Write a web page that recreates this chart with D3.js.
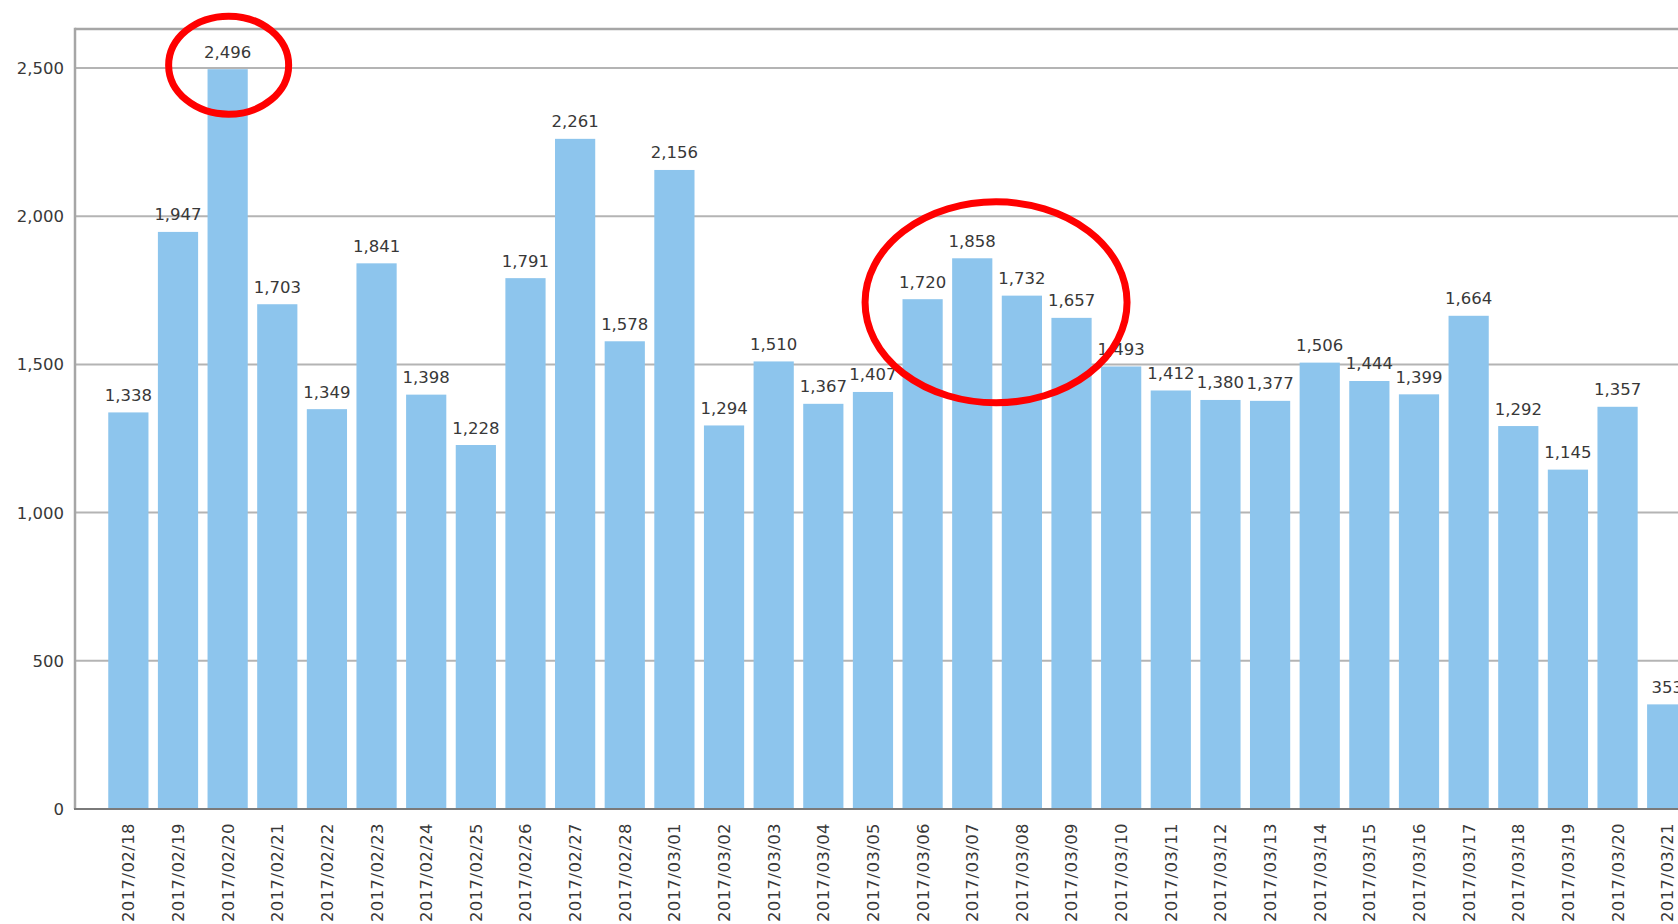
<!DOCTYPE html>
<html>
<head>
<meta charset="utf-8">
<script src="https://cdn.jsdelivr.net/npm/d3@7"></script>
<style>
  html, body { margin: 0; padding: 0; background: #fff; overflow: hidden; }
  svg { display: block; }
  text { font-family: "DejaVu Sans", Verdana, sans-serif; fill: #383838; }
</style>
</head>
<body>
<svg id="chart" width="1678" height="924"></svg>
<script>
const dates = [
  "2017/02/18","2017/02/19","2017/02/20","2017/02/21","2017/02/22","2017/02/23",
  "2017/02/24","2017/02/25","2017/02/26","2017/02/27","2017/02/28","2017/03/01",
  "2017/03/02","2017/03/03","2017/03/04","2017/03/05","2017/03/06","2017/03/07",
  "2017/03/08","2017/03/09","2017/03/10","2017/03/11","2017/03/12","2017/03/13",
  "2017/03/14","2017/03/15","2017/03/16","2017/03/17","2017/03/18","2017/03/19",
  "2017/03/20","2017/03/21"
];
const values = [
  1338, 1947, 2496, 1703, 1349, 1841,
  1398, 1228, 1791, 2261, 1578, 2156,
  1294, 1510, 1367, 1407, 1720, 1858,
  1732, 1657, 1493, 1412, 1380, 1377,
  1506, 1444, 1399, 1664, 1292, 1145,
  1357, 353
];
const yTicks = [0, 500, 1000, 1500, 2000, 2500];
const highlight1 = ["2017/02/20"];
const highlight2 = ["2017/03/06", "2017/03/07", "2017/03/08", "2017/03/09"];

const W = 1678, H = 924;
const left = 75, baseY = 809, topY = 29;
const svg = d3.select("#chart");
svg.append("rect").attr("width", W).attr("height", H).attr("fill", "#fff");

const y = d3.scaleLinear().domain([0, 2500]).range([baseY, 68]);
const step = 49.64, pIn = 0.19, pOut = 0.67;
const x = d3.scaleBand().domain(dates)
  .range([left, left + step * (dates.length - pIn + 2 * pOut)])
  .paddingInner(pIn).paddingOuter(pOut);
const fmt = d3.format(",");

// gridlines
svg.append("g").selectAll("line").data(yTicks.filter(d => d > 0)).join("line")
  .attr("x1", left).attr("x2", W)
  .attr("y1", d => y(d)).attr("y2", d => y(d))
  .attr("stroke", "#b4b4b4").attr("stroke-width", 2);

// frame top + left
svg.append("line").attr("x1", left).attr("x2", W).attr("y1", topY).attr("y2", topY)
  .attr("stroke", "#a6a6a6").attr("stroke-width", 2.5);
svg.append("line").attr("x1", left).attr("x2", left).attr("y1", topY - 1.2).attr("y2", baseY)
  .attr("stroke", "#a6a6a6").attr("stroke-width", 2.5);

// bars
svg.append("g").selectAll("rect").data(dates).join("rect")
  .attr("x", d => x(d))
  .attr("width", x.bandwidth())
  .attr("y", (d, i) => y(values[i]))
  .attr("height", (d, i) => baseY - y(values[i]))
  .attr("fill", "#8dc5ed");

// baseline
svg.append("line").attr("x1", left - 1).attr("x2", W).attr("y1", baseY).attr("y2", baseY)
  .attr("stroke", "#7a7a7a").attr("stroke-width", 2);

// y tick labels
svg.append("g").selectAll("text").data(yTicks).join("text")
  .attr("x", 64).attr("y", d => y(d)).attr("dy", "0.36em")
  .attr("text-anchor", "end").attr("font-size", 16.5)
  .text(d => fmt(d));

// value labels
svg.append("g").selectAll("text").data(dates).join("text")
  .attr("x", d => x(d) + x.bandwidth() / 2)
  .attr("y", (d, i) => y(values[i]) - 11.5)
  .attr("text-anchor", "middle").attr("font-size", 16.5)
  .text((d, i) => fmt(values[i]));

// x labels
svg.append("g").selectAll("text").data(dates).join("text")
  .attr("transform", d => `translate(${x(d) + x.bandwidth() / 2},823) rotate(-90)`)
  .attr("dy", "0.36em")
  .attr("text-anchor", "end").attr("font-size", 16.5)
  .attr("letter-spacing", "0.4px")
  .text(d => d);

// annotations: red ellipses
const cOf = d => x(d) + x.bandwidth() / 2;
const i1 = dates.indexOf(highlight1[0]);
svg.append("ellipse")
  .attr("cx", cOf(highlight1[0]) + 1)
  .attr("cy", y(values[i1]) - 4)
  .attr("rx", 60).attr("ry", 49)
  .attr("fill", "none").attr("stroke", "#ff0000").attr("stroke-width", 7);
const hv = highlight2.map(d => values[dates.indexOf(d)]);
svg.append("ellipse")
  .attr("cx", (cOf(highlight2[0]) + cOf(highlight2[highlight2.length - 1])) / 2 - 1)
  .attr("cy", y(d3.max(hv)) + 44)
  .attr("rx", 131).attr("ry", 100.5)
  .attr("fill", "none").attr("stroke", "#ff0000").attr("stroke-width", 7);
</script>
</body>
</html>
